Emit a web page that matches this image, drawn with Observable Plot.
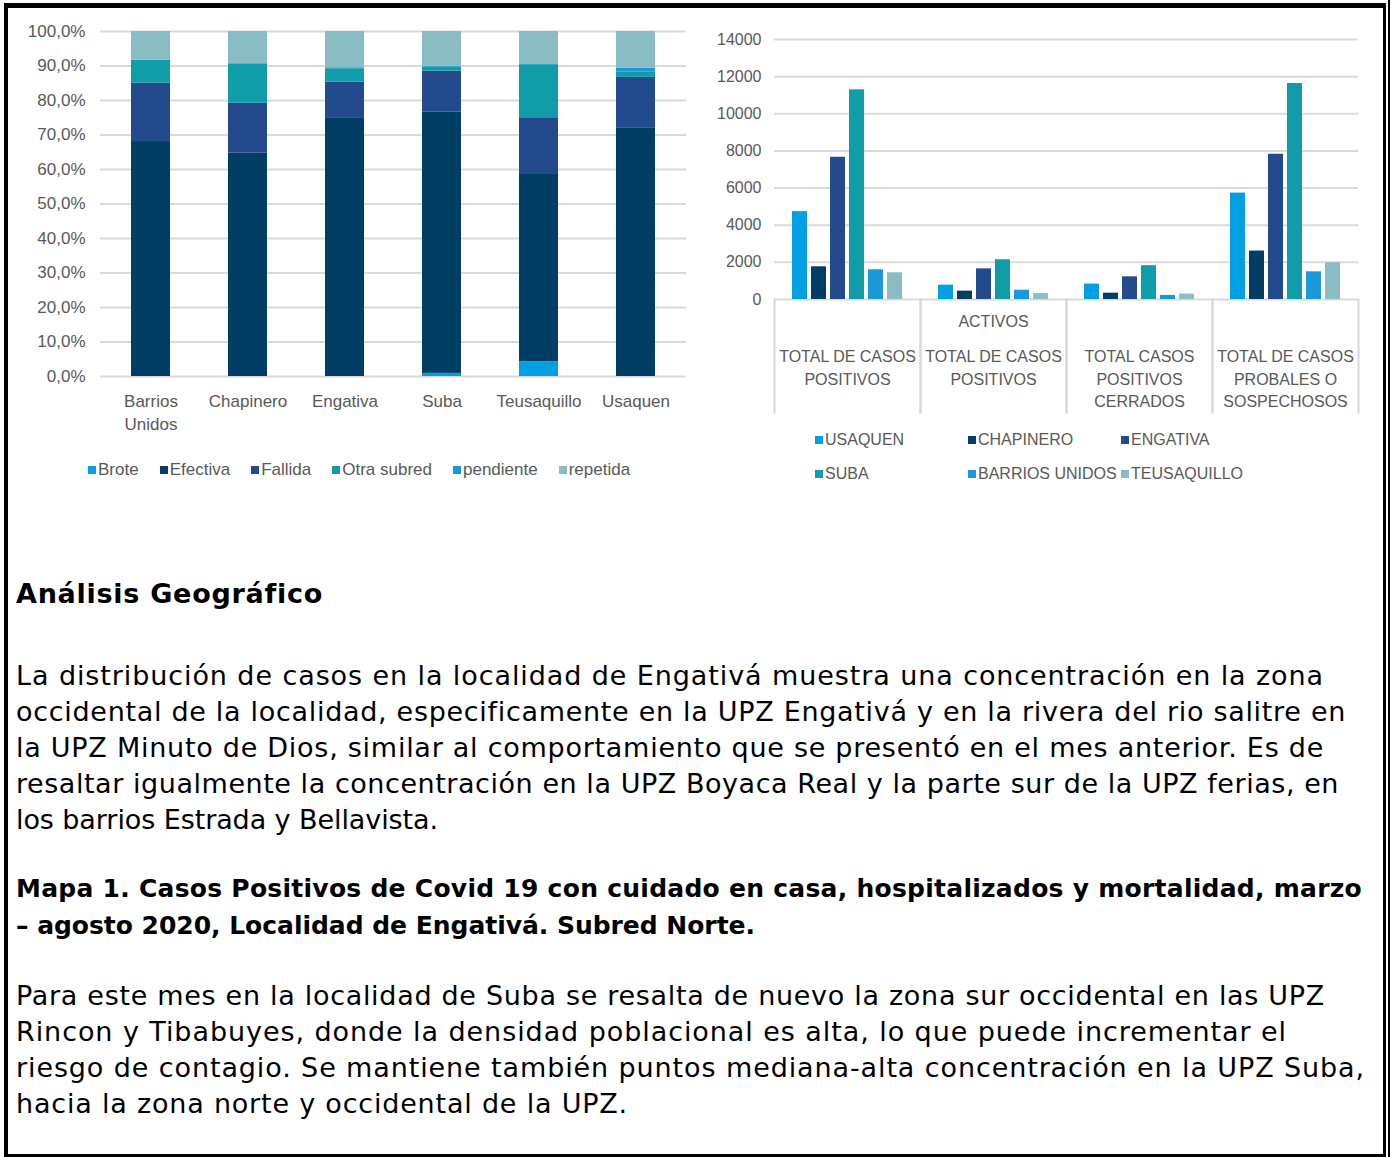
<!DOCTYPE html>
<html><head><meta charset="utf-8">
<script src="https://cdn.jsdelivr.net/npm/d3@7"></script>
<script src="https://cdn.jsdelivr.net/npm/@observablehq/plot@0.6"></script>
<style>
html,body{margin:0;padding:0;background:#fff;}
#page{position:relative;width:1393px;height:1157px;overflow:hidden;background:#fff;}
.bd{position:absolute;background:#000;}
.chart{position:absolute;}
.lg{position:absolute;font-family:"Liberation Sans",Arial,sans-serif;color:#595959;white-space:nowrap;line-height:20px;}
.lg .it{display:inline-flex;align-items:center;}
.lg .sw{display:inline-block;width:8px;height:8px;margin-right:2px;}
.tl{position:absolute;left:16px;white-space:nowrap;color:#000;line-height:1;}
</style></head><body><div id="page"></div>
<script>
// ---------- Left chart data (percent of calls per locality) ----------
const districtsL = ["Barrios Unidos","Chapinero","Engativa","Suba","Teusaquillo","Usaquen"];
const seriesL = ["Brote","Efectiva","Fallida","Otra subred","pendiente","repetida"];
const brote      = [0,    0,    0,    0.9,  4.3,  0];
const efectiva   = [68.1, 64.8, 74.8, 75.8, 54.5, 72.1];
const fallida    = [16.9, 14.4, 10.5, 11.8, 16.2, 14.6];
const otraSubred = [6.7,  11.3, 3.9,  1.2,  15.4, 1.5];
const pendiente  = [0,    0.2,  0.3,  0.2,  0,    1.2];
const repetida   = [8.3,  9.3,  10.5, 10.1, 9.6,  10.6];
const pctTicks = [0,0.1,0.2,0.3,0.4,0.5,0.6,0.7,0.8,0.9,1];

// ---------- Right chart data (cases per locality) ----------
const groups = ["TOTAL DE CASOS POSITIVOS","TOTAL DE CASOS POSITIVOS ACTIVOS","TOTAL CASOS POSITIVOS CERRADOS","TOTAL DE CASOS PROBALES O SOSPECHOSOS"];
const groupLabels = ["TOTAL DE CASOS\nPOSITIVOS","TOTAL DE CASOS\nPOSITIVOS","TOTAL CASOS\nPOSITIVOS\nCERRADOS","TOTAL DE CASOS\nPROBALES O\nSOSPECHOSOS"];
const groupHeader = ["", "ACTIVOS", "", ""];
const districtsR = ["USAQUEN","CHAPINERO","ENGATIVA","SUBA","BARRIOS UNIDOS","TEUSAQUILLO"];
const usaquen       = [4730, 770,  830,  5730];
const chapinero     = [1760, 450,  340,  2610];
const engativa      = [7660, 1650, 1220, 7820];
const suba          = [11290,2140, 1820, 11630];
const barriosUnidos = [1600, 500,  220,  1490];
const teusaquillo   = [1440, 320,  290,  1980];
const countTicks = [0,2000,4000,6000,8000,10000,12000,14000];

const palette = ["#00a0e3","#003e65","#244a8e","#109ca9","#1b98d8","#8abdc3"];

// ---------- Text ----------
const titleText = ["Análisis Geográfico"];
const para1 = [
 "La distribución de casos en la localidad de Engativá muestra una concentración en la zona",
 "occidental de la localidad, especificamente en la UPZ Engativá y en la rivera del rio salitre en",
 "la UPZ Minuto de Dios, similar al comportamiento que se presentó en el mes anterior. Es de",
 "resaltar igualmente la concentración en la UPZ Boyaca Real y la parte sur de la UPZ ferias, en",
 "los barrios Estrada y Bellavista."
];
const caption = [
 "Mapa 1. Casos Positivos de Covid 19 con cuidado en casa, hospitalizados y mortalidad, marzo",
 "– agosto 2020, Localidad de Engativá. Subred Norte."
];
const para2 = [
 "Para este mes en la localidad de Suba se resalta de nuevo la zona sur occidental en las UPZ",
 "Rincon y Tibabuyes, donde la densidad poblacional es alta, lo que puede incrementar el",
 "riesgo de contagio. Se mantiene también puntos mediana-alta concentración en la UPZ Suba,",
 "hacia la zona norte y occidental de la UPZ."
];

const page = document.getElementById("page");

// borders
[[4,3,1382,5],[4,3,4,1154],[1383,3,3,1154],[1388,0,2,1157],[4,1154,1382,3]].forEach(([l,t,w,h])=>{
  const d=document.createElement("div");d.className="bd";
  Object.assign(d.style,{left:l+"px",top:t+"px",width:w+"px",height:h+"px"});page.appendChild(d);
});

// ---------- Left chart ----------
const leftSeries = [brote,efectiva,fallida,otraSubred,pendiente,repetida];
const leftData = [];
seriesL.forEach((s,i)=>districtsL.forEach((d,j)=>leftData.push({series:s,district:d,value:leftSeries[i][j]})));
const fmtPct = d3.formatLocale({decimal:",",thousands:".",grouping:[3],currency:["$",""]}).format(".1%");

const left = Plot.plot({
  width:700, height:440, marginLeft:100, marginRight:14, marginTop:31, marginBottom:64,
  style:{fontFamily:"'Liberation Sans', Arial, sans-serif", fontSize:"17px", color:"#595959", background:"transparent", overflow:"visible"},
  x:{domain:districtsL, paddingInner:0.6, paddingOuter:0.3, axis:null},
  y:{domain:[0,1], axis:null},
  color:{domain:seriesL, range:palette},
  marks:[
    Plot.gridY(pctTicks,{stroke:"#d9d9d9",strokeOpacity:1,strokeWidth:2}),
    Plot.barY(leftData,{x:"district",y:"value",fill:"series",offset:"normalize"}),
    Plot.axisY(pctTicks,{tickSize:0,tickPadding:15,tickFormat:fmtPct,fontSize:17,label:null}),
    Plot.axisX({tickSize:0,tickPadding:14,tickFormat:d=>d.replace(" ","\n"),lineHeight:1.35,fontSize:17,label:null})
  ]
});
const lw=document.createElement("div");lw.className="chart";lw.style.left="0px";lw.style.top="0px";lw.appendChild(left);page.appendChild(lw);

// ---------- Right chart ----------
const rightSeries=[usaquen,chapinero,engativa,suba,barriosUnidos,teusaquillo];
const rightData=[];
districtsR.forEach((d,i)=>groups.forEach((g,j)=>rightData.push({group:g,district:d,value:rightSeries[i][j]})));
const plotH = 420-39-121;
const right = Plot.plot({
  width:693, height:420, marginLeft:73, marginRight:35, marginTop:39, marginBottom:121,
  style:{fontFamily:"'Liberation Sans', Arial, sans-serif", fontSize:"16px", color:"#595959", background:"transparent", overflow:"visible"},
  fx:{domain:groups, padding:0},
  x:{domain:districtsR, paddingInner:0.21, paddingOuter:0.83, axis:null},
  y:{domain:[0,14000], axis:null},
  color:{domain:districtsR, range:palette},
  marks:[
    Plot.gridY(countTicks,{stroke:"#d9d9d9",strokeOpacity:1,strokeWidth:2}),
    Plot.frame({anchor:"left",stroke:"#d9d9d9",strokeOpacity:1,strokeWidth:2,insetTop:plotH,insetBottom:-113}),
    Plot.frame({anchor:"right",stroke:"#d9d9d9",strokeOpacity:1,strokeWidth:2,insetTop:plotH,insetBottom:-113}),
    Plot.barY(rightData,{fx:"group",x:"district",y:"value",fill:"district"}),
    Plot.axisY(countTicks,{tickSize:0,tickPadding:13,tickFormat:d=>String(d),fontSize:16,label:null}),
    Plot.axisFx({anchor:"bottom",tickSize:0,tickPadding:47,tickFormat:d=>groupLabels[groups.indexOf(d)],lineHeight:1.4,fontSize:16,label:null}),
    Plot.text(groups.filter((g,i)=>groupHeader[i]),{fx:d=>d,text:d=>groupHeader[groups.indexOf(d)],frameAnchor:"bottom",lineAnchor:"top",dy:16,fontSize:16,fill:"#595959"})
  ]
});
const rw=document.createElement("div");rw.className="chart";rw.style.left="700px";rw.style.top="0px";rw.appendChild(right);page.appendChild(rw);

// ---------- Legends ----------
function legend(domain, colors, left, top, fontSize, opts){
  const div=document.createElement("div");div.className="lg";
  div.style.left=left+"px";div.style.top=top+"px";div.style.fontSize=fontSize+"px";
  if(opts.grid){div.style.display="grid";div.style.gridTemplateColumns=`repeat(3, ${opts.col}px)`;div.style.rowGap=opts.rowGap+"px";}
  domain.forEach((name,i)=>{
    const it=document.createElement("span");it.className="it";
    if(!opts.grid) it.style.marginRight=opts.gap+"px";
    const sw=document.createElement("span");sw.className="sw";sw.style.background=colors[i];
    const tx=document.createElement("span");tx.textContent=name;
    it.appendChild(sw);it.appendChild(tx);div.appendChild(it);
  });
  page.appendChild(div);
}
legend(seriesL,palette,88,459,17,{gap:21});
legend(districtsR,palette,815,430,16,{grid:true,col:153,rowGap:14});

// ---------- Text blocks ----------
function block(lines, font, baselines, widths){
  lines.forEach((t,i)=>{
    const d=document.createElement("div");d.className="tl";d.style.font=font;
    const s=document.createElement("span");s.textContent=t;
    const m=document.createElement("span");m.style.cssText="display:inline-block;width:0;height:0;vertical-align:baseline";
    d.appendChild(s);d.appendChild(m);d.style.top="0px";page.appendChild(d);
    const w=s.getBoundingClientRect().width;
    const n=[...t].length;
    s.style.letterSpacing=((widths[i]-w)/n)+"px";
    const b=m.getBoundingClientRect().top - d.getBoundingClientRect().top;
    d.style.top=(baselines[i]-b)+"px";
  });
}
block(titleText,"bold 27px 'DejaVu Sans'",[603],[306]);
block(para1,"27px 'DejaVu Sans'",[685,721,757,793,829],[1308,1330,1308,1323,422]);
block(caption,"bold 25px 'DejaVu Sans'",[897,934],[1346,739]);
block(para2,"27px 'DejaVu Sans'",[1005,1041,1077,1113],[1309,1271,1349,612]);
</script></body></html>
